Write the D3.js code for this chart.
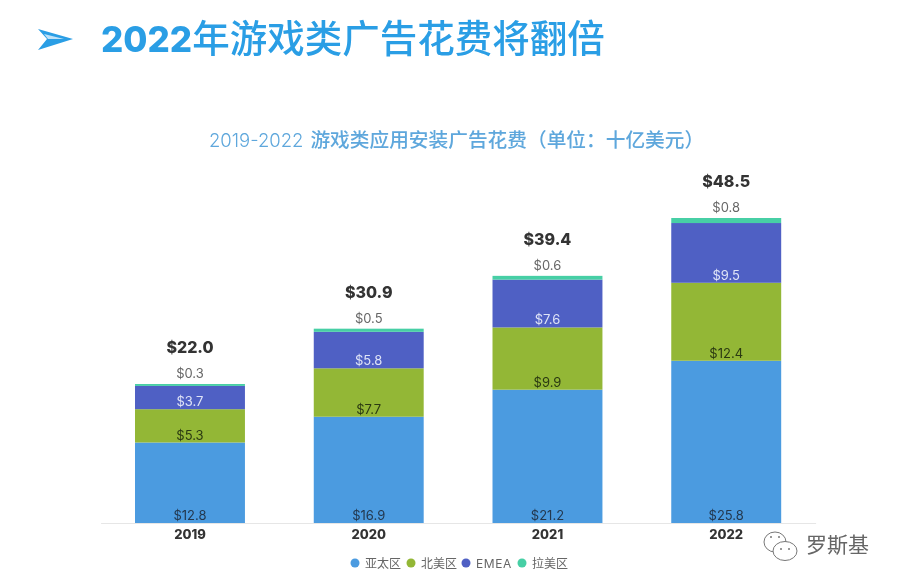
<!DOCTYPE html>
<html>
<head>
<meta charset="utf-8">
<script src="https://cdn.jsdelivr.net/npm/d3@7/dist/d3.min.js"></script>
<style>
  html, body { margin: 0; padding: 0; background: #fff; }
  svg { display: block; filter: blur(0.4px); }
  text { font-family: Inter, "Noto Sans CJK SC", sans-serif; }
</style>
</head>
<body>
<svg id="canvas" width="900" height="585"></svg>
<script>
var titleYear = '2022';
var titleRest = '年游戏类广告花费将翻倍';
var subtitleYears = '2019-2022';
var subtitleRest = '游戏类应用安装广告花费（单位：十亿美元）';
var years = ['2019', '2020', '2021', '2022'];
var regions = ['亚太区', '北美区', 'EMEA', '拉美区'];
var apac = [12.8, 16.9, 21.2, 25.8];
var northAmerica = [5.3, 7.7, 9.9, 12.4];
var emea = [3.7, 5.8, 7.6, 9.5];
var latam = [0.3, 0.5, 0.6, 0.8];
var totals = [22.0, 30.9, 39.4, 48.5];
var colors = ['#4b9be0', '#93b736', '#4f60c4', '#47cfa5'];
var labelColors = ['#23384f', '#2b3a12', '#dfe4f7', '#666666'];

var rows = years.map(function(y, i) {
  return { year: y, '亚太区': apac[i], '北美区': northAmerica[i], 'EMEA': emea[i], '拉美区': latam[i] };
});

var svg = d3.select('svg#canvas');

var x = d3.scaleBand().domain(years).range([100.6, 815.6]).paddingInner(0.385).paddingOuter(0.1925);
var y = d3.scaleLinear().domain([0, 48.5]).range([523, 218]);

var series = d3.stack().keys(regions)(rows);

// header
svg.append('path')
  .attr('d', 'M38,29 L73,39 L38,50 L47,39 Z')
  .attr('fill', '#2a9ee5');
svg.append('path')
  .attr('d', 'M44,34 L64,39 L48,39 Z')
  .attr('fill', '#bfe2f8');

var title = svg.append('text')
  .attr('x', 101).attr('y', 52)
  .attr('fill', '#2a9ee5');
title.append('tspan').attr('font-size', 35).attr('font-weight', 800).text(titleYear);
title.append('tspan').attr('font-size', 37.5).attr('font-weight', 500).text(titleRest);

var subtitle = svg.append('text')
  .attr('x', 209).attr('y', 147)
  .attr('fill', '#5ea7dc');
subtitle.append('tspan').attr('font-size', 18.5).attr('font-weight', 300).text(subtitleYears);
subtitle.append('tspan').attr('dx', 7).attr('font-size', 19.7).attr('font-weight', 500).text(subtitleRest);

// axis
var axis = svg.append('g')
  .attr('transform', 'translate(0,523)')
  .call(d3.axisBottom(x).tickSize(0).tickPadding(6.5));
axis.select('.domain').attr('stroke', '#e6e6e6').attr('stroke-width', 1);
axis.selectAll('text')
  .attr('font-family', 'Inter, sans-serif')
  .attr('font-size', 13).attr('font-weight', 800)
  .attr('fill', '#333');

// bars
var layers = svg.append('g').selectAll('g')
  .data(series).enter().append('g')
  .attr('fill', function(d, i) { return colors[i]; });

layers.selectAll('rect')
  .data(function(d) { return d; })
  .enter().append('rect')
  .attr('x', function(d) { return x(d.data.year); })
  .attr('y', function(d) { return y(d[1]); })
  .attr('width', x.bandwidth())
  .attr('height', function(d) { return y(d[0]) - y(d[1]); });

// value labels sit near the segment base, the top one goes above the stack
layers.each(function(s, i) {
  d3.select(this).selectAll('text')
    .data(s).enter().append('text')
    .attr('x', function(d) { return x(d.data.year) + x.bandwidth() / 2; })
    .attr('y', function(d) { return i === 3 ? y(d[1]) - 6 : y(d[0]) - 3; })
    .attr('text-anchor', 'middle')
    .attr('font-size', 13)
    .attr('fill', labelColors[i])
    .text(function(d) { return '$' + (d[1] - d[0]).toFixed(1); });
});

// totals
svg.append('g').selectAll('text')
  .data(series[3]).enter().append('text')
  .attr('x', function(d) { return x(d.data.year) + x.bandwidth() / 2; })
  .attr('y', function(d) { return y(d[1]) - 31; })
  .attr('text-anchor', 'middle')
  .attr('font-size', 16).attr('font-weight', 800)
  .attr('fill', '#333')
  .text(function(d, i) { return '$' + totals[i].toFixed(1); });

// legend
var legendX = [355, 411, 466, 522];
var legend = svg.append('g').selectAll('g')
  .data(regions).enter().append('g')
  .attr('transform', function(d, i) { return 'translate(' + legendX[i] + ',563)'; });
legend.append('circle')
  .attr('r', 4.5)
  .attr('fill', function(d, i) { return colors[i]; });
legend.append('text')
  .attr('x', 10).attr('y', 4.5)
  .attr('font-size', 12)
  .attr('letter-spacing', function(d) { return d === 'EMEA' ? 0.6 : 0; })
  .attr('fill', '#666')
  .text(function(d) { return d; });

// watermark
var mark = svg.append('g').attr('fill', '#fff').attr('stroke', '#777').attr('stroke-width', 1);
mark.append('ellipse').attr('cx', 775).attr('cy', 542).attr('rx', 11).attr('ry', 10);
mark.append('ellipse').attr('cx', 785).attr('cy', 551).attr('rx', 12).attr('ry', 9.5);
var eyes = [[771, 537], [779, 537], [781, 549], [789, 549]];
svg.append('g').selectAll('circle')
  .data(eyes).enter().append('circle')
  .attr('cx', function(d) { return d[0]; })
  .attr('cy', function(d) { return d[1]; })
  .attr('r', 1).attr('fill', '#777');
svg.append('text')
  .attr('x', 806).attr('y', 552)
  .attr('font-size', 21)
  .attr('fill', '#666')
  .text('罗斯基');
</script>
</body>
</html>
